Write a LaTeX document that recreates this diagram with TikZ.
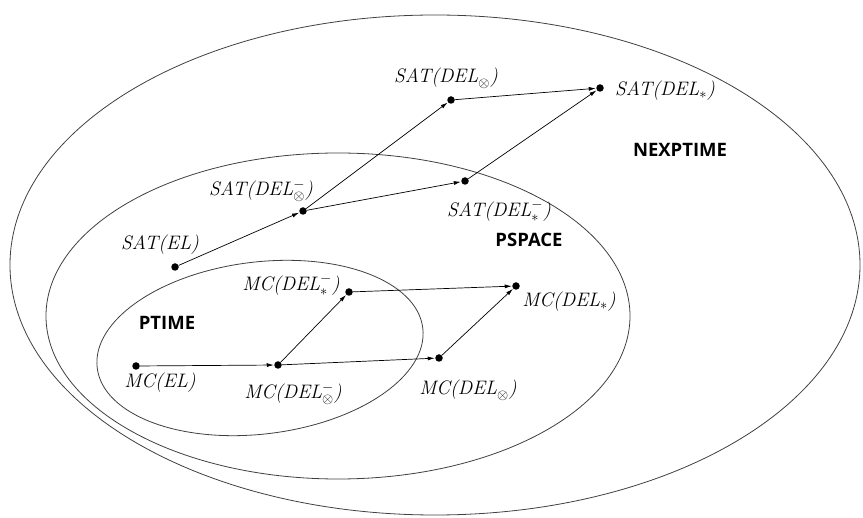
\documentclass[tikz,border=0pt]{standalone}
\usepackage{fontspec}
\newfontfamily\regionfont{Open Sans}
\usetikzlibrary{arrows.meta}
\begin{document}
\begin{tikzpicture}[x=1pt,y=-1pt,
  set/.style={draw=black!75, line width=0.8pt},
  dot/.style={circle, fill=black, inner sep=0pt, minimum size=7.5pt},
  lbl/.style={inner sep=0pt, font=\fontsize{19.5}{22}\selectfont\itshape},
  region/.style={inner sep=0pt, font=\fontsize{18.5}{22}\selectfont\regionfont\bfseries},
  arr/.style={-{Latex[length=7pt,width=4pt]}, line width=0.7pt, shorten >=0.3pt}]
\useasboundingbox (0,0) rectangle (863,518);
% sets
\draw[set] (435,265) ellipse [x radius=425, y radius=250];
\draw[set] (338,316) ellipse [x radius=292, y radius=163];
\draw[set, rotate around={7:(260,348)}] (260,348) ellipse [x radius=164, y radius=86];
% region names
\node[region] (nexp) at (680,150) {NEXPTIME};
\node[region] (pspace) at (529,240) {PSPACE};
\node[region] (ptime) at (167,323) {PTIME};
% points
\node[dot] (satdelo) at (451,100) {};
\node[dot] (satdels) at (600,88) {};
\node[dot] (satdelom) at (303,211) {};
\node[dot] (satdelsm) at (465,181) {};
\node[dot] (satel) at (175,267) {};
\node[dot] (mcdelsm) at (349,292) {};
\node[dot] (mcdels) at (516,286) {};
\node[dot] (mcel) at (136,366) {};
\node[dot] (mcdelom) at (278,365) {};
\node[dot] (mcdelo) at (439,358) {};
% labels
\node[lbl] (lsatdelo) at (446,78) {SAT(DEL$^{\phantom{-}}_{\otimes}$)};
\node[lbl] (lsatdels) at (665,91) {SAT(DEL$_{*}$)};
\node[lbl] (lsatdelom) at (261,191) {SAT(DEL$^{-}_{\otimes}$)};
\node[lbl] (lsatdelsm) at (499,211) {SAT(DEL$^{-}_{*}$)};
\node[lbl] (lsatel) at (160,245) {SAT(EL)};
\node[lbl] (lmcdelsm) at (291,285) {MC(DEL$^{-}_{*}$)};
\node[lbl] (lmcdels) at (569,302) {MC(DEL$_{*}$)};
\node[lbl] (lmcel) at (160,383) {MC(EL)};
\node[lbl] (lmcdelom) at (293,394) {MC(DEL$^{-}_{\otimes}$)};
\node[lbl] (lmcdelo) at (468,390) {MC(DEL$^{\phantom{-}}_{\otimes}$)};
% arrows
\draw[arr] (satel) -- (satdelom);
\draw[arr] (satdelom) -- (satdelo);
\draw[arr] (satdelom) -- (satdelsm);
\draw[arr] (satdelo) -- (satdels);
\draw[arr] (satdelsm) -- (satdels);
\draw[arr] (mcel) -- (mcdelom);
\draw[arr] (mcdelom) -- (mcdelsm);
\draw[arr] (mcdelom) -- (mcdelo);
\draw[arr] (mcdelsm) -- (mcdels);
\draw[arr] (mcdelo) -- (mcdels);
\end{tikzpicture}
\end{document}
